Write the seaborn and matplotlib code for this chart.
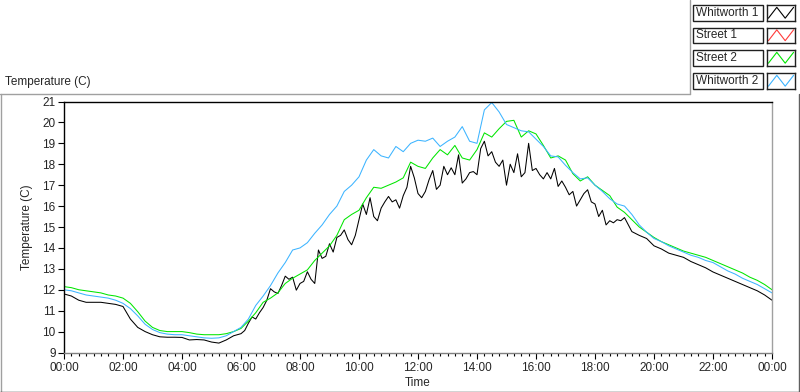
import numpy as np
import matplotlib
matplotlib.use("Agg")
import matplotlib.pyplot as plt
import seaborn as sns
from matplotlib.lines import Line2D
from matplotlib.patches import Rectangle

# ---- data (hours since midnight, temperature in C) ----
hours_15min = np.arange(0, 24.01, 0.25)
# Whitworth 1 is read at a finer step during the day (it is noisy)
hours_w1 = np.concatenate([np.arange(0, 6, 0.25),
                           np.arange(6, 19, 0.125),
                           np.arange(19, 24.01, 0.25)])

whitworth1 = [
    11.8, 11.7, 11.5, 11.4, 11.4, 11.4, 11.35, 11.3, 11.2, 10.6, 10.2, 10.0,
    9.85, 9.75, 9.73, 9.73, 9.72, 9.6, 9.62, 9.6, 9.5, 9.45, 9.6, 9.8,
    # 06:00 - 19:00
    9.9, 10.05, 10.4, 10.7, 10.6, 10.9, 11.15, 11.5, 12.05, 11.9, 11.82, 12.2,
    12.65, 12.5, 12.6, 11.98, 12.3, 12.4, 12.86, 12.5, 12.3, 13.9, 13.5, 13.6,
    14.2, 13.8, 14.5, 14.6, 14.86, 14.4, 14.15, 14.6, 15.34, 16.1, 15.6, 16.4,
    15.5, 15.3, 15.9, 16.2, 16.46, 16.2, 16.3, 15.9, 16.5, 16.9, 17.9, 17.35,
    16.6, 16.4, 16.7, 17.26, 17.7, 16.8, 17.0, 17.9, 17.5, 17.83, 17.5, 18.45,
    17.1, 17.3, 17.6, 17.65, 17.5, 18.75, 19.1, 18.4, 18.6, 18.1, 17.9, 18.2,
    17.0, 18.0, 17.6, 18.5, 17.4, 17.6, 19.0, 17.7, 17.8, 17.5, 17.3, 17.6,
    17.3, 17.8, 16.94, 17.2, 16.9, 16.54, 16.7, 16.0, 16.3, 16.6, 16.78, 16.2,
    16.1, 15.5, 15.8, 15.1, 15.3, 15.2, 15.35, 15.3,
    # 19:00 - 24:00
    15.45, 14.78, 14.6, 14.45, 14.1, 13.95, 13.75, 13.65, 13.55, 13.35, 13.2,
    13.05, 12.85, 12.7, 12.55, 12.4, 12.25, 12.1, 11.95, 11.75, 11.5,
]

street1 = []  # no readings in this window

street2 = [
    12.15, 12.1, 12.0, 11.95, 11.9, 11.85, 11.75, 11.7, 11.6, 11.35, 10.95, 10.5,
    10.2, 10.05, 10.0, 10.0, 10.0, 9.95, 9.88, 9.85, 9.85, 9.85, 9.9, 10.0,
    10.15, 10.5, 10.9, 11.4, 11.6, 11.85, 12.3, 12.55, 12.75, 12.95, 13.4, 13.75,
    14.1, 14.6, 15.35, 15.6, 15.8, 16.4, 16.9, 16.85, 17.0, 17.15, 17.35, 18.1,
    17.9, 17.8, 18.3, 18.7, 18.45, 18.9, 18.3, 18.2, 18.7, 19.5, 19.3, 19.7,
    20.05, 20.1, 19.3, 19.6, 19.45, 18.9, 18.3, 18.4, 18.2, 17.55, 17.2, 17.4,
    17.0, 16.75, 16.5, 15.95, 15.7, 15.35, 15.0, 14.75, 14.5, 14.3, 14.15, 14.0,
    13.85, 13.75, 13.65, 13.55, 13.4, 13.25, 13.1, 12.95, 12.8, 12.6, 12.45, 12.25,
    12.0,
]

whitworth2 = [
    12.0, 11.95, 11.85, 11.75, 11.7, 11.65, 11.6, 11.5, 11.35, 11.1, 10.75, 10.35,
    10.1, 9.95, 9.88, 9.85, 9.85, 9.8, 9.75, 9.7, 9.68, 9.7, 9.8, 10.0,
    10.2, 10.6, 11.25, 11.7, 12.2, 12.8, 13.3, 13.9, 14.0, 14.25, 14.7, 15.1,
    15.6, 16.0, 16.7, 17.0, 17.4, 18.2, 18.7, 18.4, 18.3, 18.85, 18.6, 19.0,
    19.15, 19.1, 19.25, 18.85, 19.1, 19.3, 19.8, 19.1, 19.0, 20.6, 20.95, 20.5,
    19.9, 19.75, 19.6, 19.55, 19.2, 18.85, 18.4, 18.35, 17.95, 17.6, 17.3, 17.35,
    17.0, 16.7, 16.35, 16.1, 16.0, 15.6, 15.1, 14.75, 14.45, 14.3, 14.1, 13.95,
    13.8, 13.65, 13.55, 13.4, 13.3, 13.1, 12.9, 12.75, 12.55, 12.4, 12.25, 12.05,
    11.85,
]

series_names = ["Whitworth 1", "Street 1", "Street 2", "Whitworth 2"]
series_colors = ["#000000", "#ff3b3b", "#00e600", "#3cb4ff"]
tick_hours = list(range(0, 25, 2))
tick_labels = ["00:00", "02:00", "04:00", "06:00", "08:00", "10:00", "12:00",
               "14:00", "16:00", "18:00", "20:00", "22:00", "00:00"]

# ---- figure ----
sns.set_style("white")
plt.rcParams["font.family"] = ["Liberation Sans", "DejaVu Sans"]
W, H = 800, 392
fig = plt.figure(figsize=(W / 100, H / 100), dpi=100)


def px_box(x0, y0, x1, y1):
    # pixel box (top-left origin) -> figure fraction rect
    return [x0 / W, 1 - y1 / H, (x1 - x0) / W, (y1 - y0) / H]


def fig_line(x0, y0, x1, y1, color):
    fig.add_artist(Line2D([x0 / W, x1 / W], [1 - y0 / H, 1 - y1 / H],
                          transform=fig.transFigure, color=color, lw=1))


ax = fig.add_axes(px_box(64, 101.5, 772, 352.5))
plots = [(hours_w1, whitworth1, series_colors[0]),
         (hours_15min, street2, series_colors[2]),
         (hours_15min, whitworth2, series_colors[3])]
for hrs, vals, col in plots:
    sns.lineplot(x=hrs, y=vals, color=col, lw=0.75, ax=ax,
                 estimator=None, legend=False)

ax.set_xlim(0, 24)
ax.set_ylim(9, 21)
ax.set_xticks(tick_hours)
ax.set_xticklabels(tick_labels)
ax.set_xticks(np.arange(0, 24.01, 0.25), minor=True)
ax.set_yticks(range(9, 22))
ax.tick_params(axis="x", which="major", bottom=True, length=4.3, width=0.8,
               color="black", labelsize=8.5, pad=2.5)
ax.tick_params(axis="x", which="minor", bottom=True, length=2.4, width=0.8,
               color="black")
ax.tick_params(axis="y", left=True, length=4, width=0.8, color="black",
               labelsize=8.5, pad=2)
ax.spines["left"].set_color("black")
ax.spines["top"].set_color("black")
ax.spines["right"].set_color("#a0a0a0")
ax.spines["bottom"].set_color("#808080")
for s in ax.spines.values():
    s.set_linewidth(1)
ax.set_xlabel("Time", fontsize=8.5, labelpad=2)
ax.set_ylabel("Temperature (C)", fontsize=8.5, labelpad=7)

# panel caption and frame
fig.text(5 / W, 1 - 82 / H, "Temperature (C)", fontsize=8.5, va="center", ha="left")
fig_line(0, 94, 690, 94, "#a0a0a0")
fig_line(690, 0, 690, 94, "#a0a0a0")
fig_line(0.5, 94, 0.5, 392, "#a0a0a0")
fig_line(0, 391.5, 800, 391.5, "#202020")
fig_line(798.5, 94, 798.5, 392, "#606060")

# legend: name box + swatch for each plot
row_tops = [5, 27.5, 50, 73]
for top, name, col in zip(row_tops, series_names, series_colors):
    fig.add_artist(Rectangle((693 / W, 1 - (top + 15.5) / H), 70 / W, 15.5 / H,
                             transform=fig.transFigure, facecolor="white",
                             edgecolor="#202020", lw=1))
    fig.text(695.5 / W, 1 - (top + 8) / H, name, fontsize=8.5, va="center", ha="left")
    sw = fig.add_axes(px_box(767, top, 795, top + 15.5))
    sw.plot([0.05, 0.35, 0.65, 0.95], [0.15, 0.85, 0.15, 0.85], color=col, lw=0.8)
    sw.set_xlim(0, 1)
    sw.set_ylim(0, 1)
    sw.set_xticks([])
    sw.set_yticks([])
    for s in sw.spines.values():
        s.set_color("#202020")
        s.set_linewidth(1)

fig.savefig("out.png", dpi=100)
